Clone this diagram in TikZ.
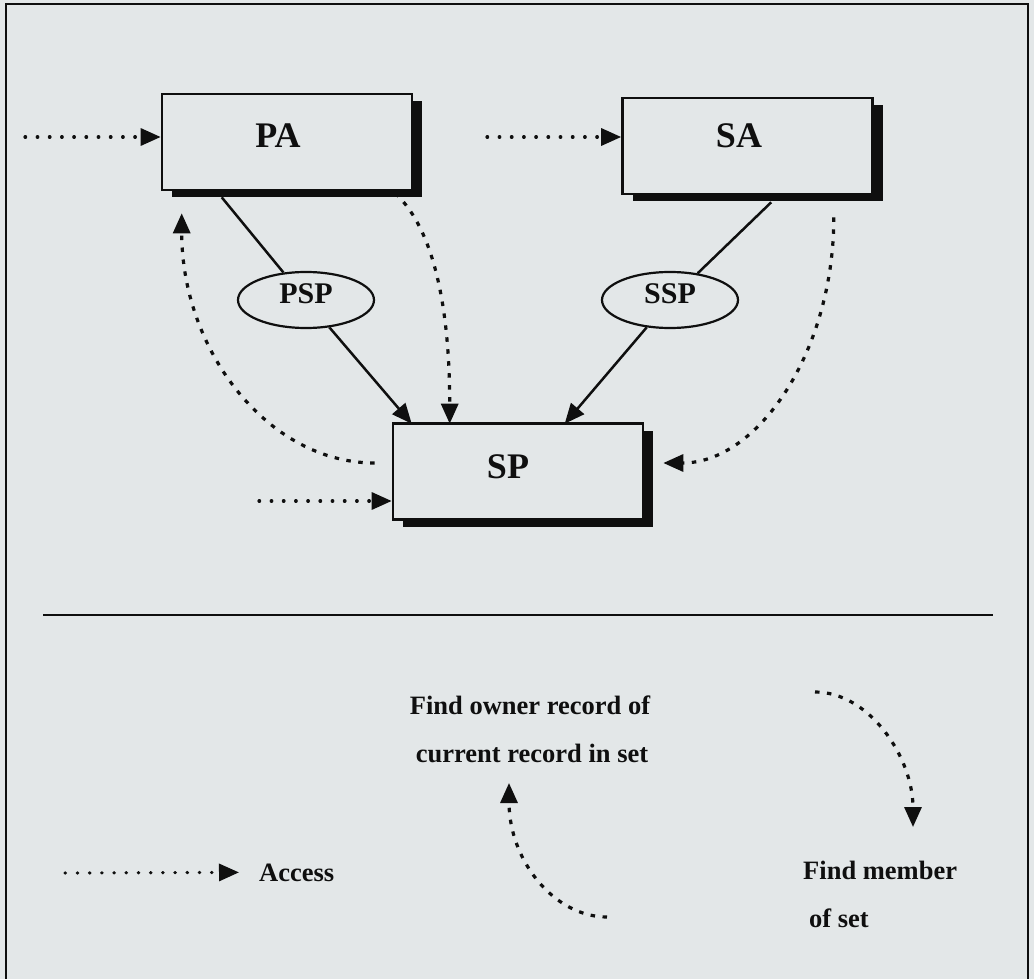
\documentclass[tikz,border=0pt]{standalone}
\usepackage{fontspec}
\setmainfont{Liberation Serif}
\usetikzlibrary{arrows.meta,shapes.geometric,shadows,calc}
\definecolor{bg}{RGB}{227,231,232}
\definecolor{ink}{RGB}{15,15,15}
\begin{document}
\begin{tikzpicture}[x=1pt,y=-1pt,
  tip/.tip={Triangle[length=20pt,width=17pt]},
  box/.style={draw=ink, line width=2.6pt, fill=bg, minimum width=250pt, minimum height=96pt, inner sep=0pt,
     drop shadow={shadow xshift=10pt, shadow yshift=-7pt, fill=ink, opacity=1}},
  boxlabel/.style={font=\fontsize{36}{40}\selectfont\bfseries, text=ink, inner sep=0pt},
  setnode/.style={ellipse, draw=ink, line width=2.2pt, fill=bg, minimum width=136pt, minimum height=56pt, inner sep=0pt},
  setlabel/.style={font=\fontsize{30}{34}\selectfont\bfseries, text=ink, inner sep=0pt},
  conn/.style={draw=ink, line width=2.5pt},
  dotline/.style={draw=ink, line width=3.2pt, line cap=round, dash pattern=on 0.6pt off 11.6pt},
  dashcurve/.style={draw=ink, line width=3.2pt, dash pattern=on 4.5pt off 7.5pt},
  legend/.style={font=\fontsize{26.5}{30}\selectfont\bfseries, text=ink, inner sep=0pt}
]
\useasboundingbox (0,0) rectangle (1034,979);
\fill[bg] (0,0) rectangle (1034,979);
% frame
\draw[ink, line width=2.8pt] (6,990) -- (6,4) -- (1028,4) -- (1028,990);

% boxes
\node[box, label={[boxlabel, xshift=-9pt, yshift=6pt]center:PA}] (PA) at (287,142) {};
\node[box, label={[boxlabel, xshift=-8.5pt, yshift=10pt]center:SA}] (SA) at (747.5,146) {};
\node[box, label={[boxlabel, xshift=-10pt, yshift=4.5pt]center:SP}] (SP) at (518,471.5) {};

% set ellipses
\node[setnode, label={[setlabel, yshift=6pt]center:PSP}] (PSP) at (306,300) {};
\node[setnode, label={[setlabel, yshift=6pt]center:SSP}] (SSP) at (670,300) {};

% set connectors
\draw[conn] ($(PA.south west)+(61,6)$) -- (PSP);
\draw[conn, -tip] (PSP) -- ($(SP.north west)+(20,1.5)$);
\draw[conn] ($(SA.south west)+(150,7)$) -- (SSP);
\draw[conn, -tip] (SSP) -- ($(SP.north west)+(173,1.5)$);

% access / navigation arrows
\draw[dashcurve, -tip] ($(PA.south east)+(-18,2)$) .. controls +(45,42) and +(0,-94) .. ($(SP.north west)+(58,1.5)$);
\draw[dashcurve, -tip] ($(SP.west)+(-17,-8.5)$) .. controls +(-106,0) and +(0,138) .. ($(PA.south west)+(21,22)$);
\draw[dashcurve, -tip] ($(SA.south east)+(-40,22)$) .. controls +(0,135) and +(94,0) .. ($(SP.east)+(19,-8.5)$);

\coordinate (inPA) at (25,137);
\coordinate (inSA) at (487,137);
\coordinate (inSP) at (259,501);
\draw[dotline, -tip] (inPA) -- ($(PA.west)+(0,-5)$);
\draw[dotline, -tip] (inSA) -- ($(SA.west)+(0,-9)$);
\draw[dotline, -tip] (inSP) -- ($(SP.west)+(0,29.5)$);

% divider
\coordinate (dl) at (43,615);
\coordinate (dr) at (993,615);
\draw[ink, line width=2.8pt] (dl) -- (dr);

% legend
\node[legend, anchor=base west] (acc) at (259,881) {Access};
\coordinate (acc0) at (65,873);
\draw[dotline, -tip] (acc0) -- ($(acc.west)+(-20,0)$);

\node[legend, anchor=base] (own1) at (530,714) {Find owner record of};
\node[legend, anchor=base] (own2) at (532,762) {current record in set};
\coordinate (up0) at (607,917);
\coordinate (up1) at (509,783);
\draw[dashcurve, -tip] (up0) .. controls +(-53,0) and +(0,77) .. (up1);

\node[legend, anchor=base west] (mem1) at (803,879) {Find member};
\node[legend, anchor=base west] (mem2) at (809,927) {of set};
\coordinate (dn0) at (815,692);
\coordinate (dn1) at (913,827);
\draw[dashcurve, -tip] (dn0) .. controls +(54,0) and +(0,-70) .. (dn1);
\end{tikzpicture}
\end{document}
